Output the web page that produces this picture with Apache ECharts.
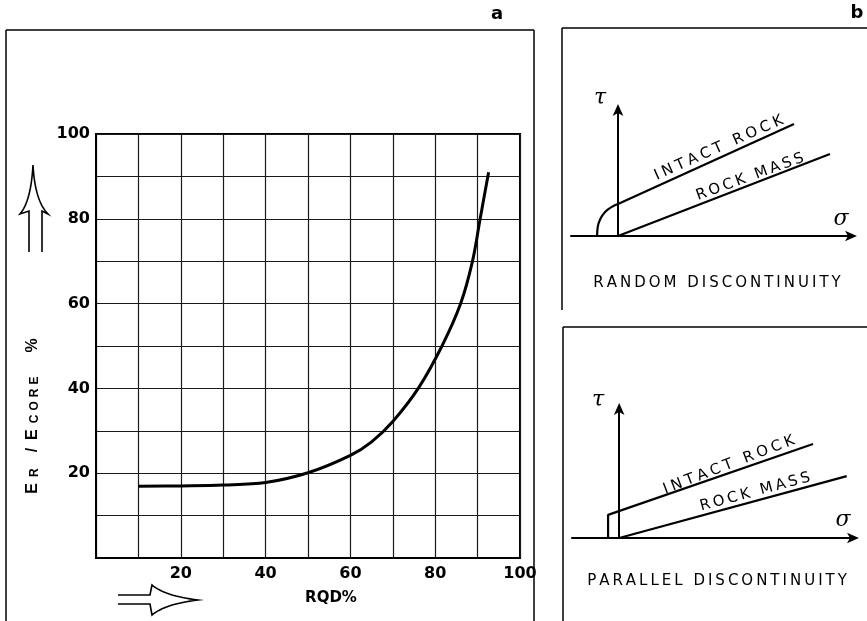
<!DOCTYPE html>
<html><head><meta charset="utf-8">
<script src="https://cdn.jsdelivr.net/npm/echarts@6/dist/echarts.min.js"></script>
<style>html,body{margin:0;padding:0;background:#fff}#c{width:867px;height:621px}</style>
</head><body><div id="c"></div>
<script>
// ---- Panel a: E_R/E_CORE vs RQD ----
const rqd   = [10, 20, 30, 40, 50, 60, 65, 70, 76, 81.6, 86, 88.8, 90.6, 92.6];
const ratio = [16.9, 17.0, 17.2, 17.8, 20.1, 24.2, 27.4, 32.2, 40, 50, 60, 70, 80, 91];
const xTickLabels = [20, 40, 60, 80, 100];
const yTickLabels = [20, 40, 60, 80, 100];

// ---- Panel b (top): random discontinuity ----
const randIntactX = [0, 7.49];
const randIntactY = [1.375, 4.81];
const randMassX = [0, 9.02];
const randMassY = [0, 3.52];
const randArcX = [-0.89, -0.86, -0.77, -0.55, -0.26, 0];
const randArcY = [0, 0.4, 0.69, 1.03, 1.25, 1.375];

// ---- Panel b (bottom): parallel discontinuity ----
const parIntactX = [-0.47, -0.47, 8.22];
const parIntactY = [0, 0.97, 3.95];
const parMassX = [0, 9.65];
const parMassY = [0, 2.6];

const pairs = (xs, ys) => xs.map((x, i) => [x, ys[i]]);
const sp = (s, ch) => s.split('').join(ch || '\u2009');

// quadratic bezier sampled to points (decorative hollow arrows only)
function quad(p0, c, p1, n) {
  const out = [];
  for (let i = 1; i <= n; i++) {
    const t = i / n, u = 1 - t;
    out.push([u * u * p0[0] + 2 * u * t * c[0] + t * t * p1[0], u * u * p0[1] + 2 * u * t * c[1] + t * t * p1[1]]);
  }
  return out;
}
const upArrow = [[29, 252], [29, 211], [20, 214]]
  .concat(quad([20, 214], [31, 201], [33, 165], 16))
  .concat(quad([33, 165], [35, 201], [48, 214], 16))
  .concat([[42, 211], [42, 252]]);
const rightArrow = [[118, 595], [150, 595], [152, 585]]
  .concat(quad([152, 585], [165, 596], [198, 600], 16))
  .concat(quad([198, 600], [165, 604], [152, 615], 16))
  .concat([[150, 604], [118, 604]]);

const chart = echarts.init(document.getElementById('c'));

const hiddenAxisX = (gi) => ({
  type: 'value', gridIndex: gi, min: -2, max: 10,
  axisLine: { show: true, onZero: true, symbol: ['none', 'arrow'], symbolSize: [8, 12], symbolOffset: [0, 4],
    lineStyle: { color: '#000', width: 2 } },
  axisTick: { show: false }, axisLabel: { show: false }, splitLine: { show: false }
});
const hiddenAxisY = (gi) => ({
  type: 'value', gridIndex: gi, min: 0, max: 5.5,
  axisLine: { show: true, onZero: true, symbol: ['none', 'arrow'], symbolSize: [8, 12], symbolOffset: [0, 4],
    lineStyle: { color: '#000', width: 2 } },
  axisTick: { show: false }, axisLabel: { show: false }, splitLine: { show: false }
});
const bLine = (xi, data, smooth) => ({
  type: 'line', xAxisIndex: xi, yAxisIndex: xi, data: data, showSymbol: false, smooth: !!smooth,
  clip: false, lineStyle: { color: '#000', width: 2.2 }
});

const labelFont = { fontFamily: 'DejaVu Sans', fontSize: 15, fill: '#000' };
const txt = (x, y, text, rotDeg, extra) => ({
  type: 'text', x: x, y: y, rotation: (rotDeg || 0) * Math.PI / 180,
  style: Object.assign({ text: text, align: 'center', verticalAlign: 'middle' }, labelFont, extra || {})
});
const ln = (x1, y1, x2, y2, w) => ({
  type: 'line', shape: { x1, y1, x2, y2 }, style: { stroke: '#000', lineWidth: w || 1.5 }
});
const tickFont = { color: '#000', fontFamily: 'DejaVu Sans', fontWeight: 'bold', fontSize: 16 };

chart.setOption({
  animation: false,
  backgroundColor: '#fff',
  grid: [
    { left: 96, top: 134, width: 424, height: 424, show: true, borderColor: '#000', borderWidth: 2 },
    { left: 571, top: 108, width: 282, height: 128 },
    { left: 572, top: 407, width: 283, height: 131 }
  ],
  xAxis: [
    {
      type: 'value', gridIndex: 0, min: 0, max: 100, interval: 10,
      axisLine: { lineStyle: { color: '#000', width: 2 } },
      axisTick: { show: false },
      splitLine: { lineStyle: { color: '#1a1a1a', width: 1.2 } },
      axisLabel: Object.assign({ formatter: v => xTickLabels.includes(v) ? String(v) : '', margin: 8 }, tickFont)
    },
    hiddenAxisX(1), hiddenAxisX(2)
  ],
  yAxis: [
    {
      type: 'value', gridIndex: 0, min: 0, max: 100, interval: 10,
      axisLine: { lineStyle: { color: '#000', width: 2 } },
      axisTick: { show: false },
      splitLine: { lineStyle: { color: '#1a1a1a', width: 1.2 } },
      axisLabel: Object.assign({ formatter: v => yTickLabels.includes(v) ? String(v) : '', margin: 6 }, tickFont)
    },
    hiddenAxisY(1), hiddenAxisY(2)
  ],
  series: [
    { type: 'line', xAxisIndex: 0, yAxisIndex: 0, data: pairs(rqd, ratio), showSymbol: false,
      smooth: 0.35, lineStyle: { color: '#000', width: 3 } },
    bLine(1, pairs(randIntactX, randIntactY)),
    bLine(1, pairs(randMassX, randMassY)),
    bLine(1, pairs(randArcX, randArcY), true),
    bLine(2, pairs(parIntactX, parIntactY)),
    bLine(2, pairs(parMassX, parMassY))
  ],
  graphic: [
    // panel frames
    ln(6, 30, 534, 30), ln(6, 30, 6, 621), ln(534, 30, 534, 621),
    ln(562, 28, 867, 28), ln(562, 28, 562, 310),
    ln(563, 327, 867, 327), ln(563, 327, 563, 621),
    // panel letters
    txt(497, 14, 'a', 0, { fontFamily: 'DejaVu Sans', fontWeight: 'bold', fontSize: 18 }),
    txt(857, 13, 'b', 0, { fontFamily: 'DejaVu Sans', fontWeight: 'bold', fontSize: 18 }),
    // axis names panel a
    txt(331, 598, 'RQD%', 0, { fontFamily: 'DejaVu Sans', fontWeight: 'bold', fontSize: 15 }),
    {
      type: 'text', x: 33, y: 416, rotation: Math.PI / 2,
      style: {
        text: '{b|E}{s|\u2002R}{b|\u2002\u2002/\u2002E}{s|\u2002' + sp('CORE', '\u2004') + '}{b|\u2002\u2002\u2002%}',
        align: 'center', verticalAlign: 'middle', fill: '#000',
        rich: {
          b: { fontFamily: 'Liberation Sans', fontWeight: 'bold', fontSize: 16, verticalAlign: 'bottom' },
          s: { fontFamily: 'Liberation Sans', fontWeight: 'bold', fontSize: 12, verticalAlign: 'bottom' }
        }
      }
    },
    // hollow arrows
    { type: 'polyline', shape: { points: upArrow }, style: { fill: null, stroke: '#000', lineWidth: 1.6 } },
    { type: 'polyline', shape: { points: rightArrow }, style: { fill: null, stroke: '#000', lineWidth: 1.6 } },
    // panel b texts
    txt(600, 98, '\u03C4', 0, { fontFamily: 'DejaVu Serif', fontStyle: 'italic', fontSize: 22 }),
    txt(841, 219, '\u03C3', 0, { fontFamily: 'DejaVu Serif', fontStyle: 'italic', fontSize: 22 }),
    txt(719, 148, sp('INTACT ROCK', '\u2005'), 24),
    txt(750, 177, sp('ROCK MASS'), 20),
    txt(717, 283, sp('RANDOM DISCONTINUITY'), 0),
    txt(598, 400, '\u03C4', 0, { fontFamily: 'DejaVu Serif', fontStyle: 'italic', fontSize: 22 }),
    txt(843, 520, '\u03C3', 0, { fontFamily: 'DejaVu Serif', fontStyle: 'italic', fontSize: 22 }),
    txt(729, 465, sp('INTACT ROCK', '\u2005'), 21),
    txt(755, 492, sp('ROCK MASS'), 15),
    txt(717, 581, sp('PARALLEL DISCONTINUITY'), 0)
  ]
});
</script></body></html>
